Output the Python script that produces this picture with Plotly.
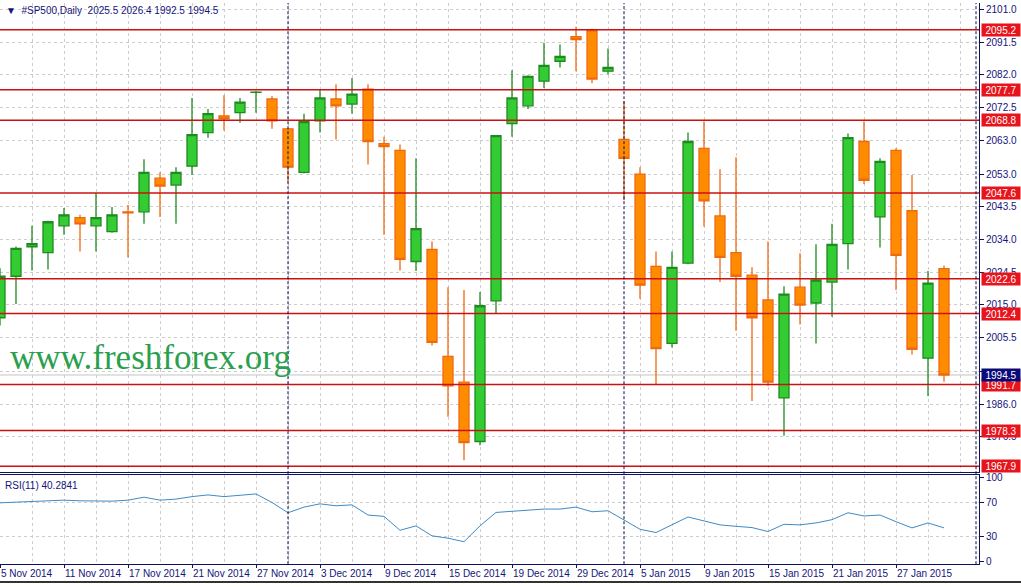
import plotly.graph_objects as go
from datetime import date

# ---------------- data ----------------
dates = [
    "2014-11-05", "2014-11-06", "2014-11-07", "2014-11-10", "2014-11-11", "2014-11-12",
    "2014-11-13", "2014-11-14", "2014-11-17", "2014-11-18", "2014-11-19", "2014-11-20",
    "2014-11-21", "2014-11-24", "2014-11-25", "2014-11-26", "2014-11-27", "2014-11-28",
    "2014-12-01", "2014-12-02", "2014-12-03", "2014-12-04", "2014-12-05", "2014-12-08",
    "2014-12-09", "2014-12-10", "2014-12-11", "2014-12-12", "2014-12-15", "2014-12-16",
    "2014-12-17", "2014-12-18", "2014-12-19", "2014-12-22", "2014-12-23", "2014-12-24",
    "2014-12-29", "2014-12-30", "2014-12-31", "2015-01-02", "2015-01-05", "2015-01-06",
    "2015-01-07", "2015-01-08", "2015-01-09", "2015-01-12", "2015-01-13", "2015-01-14",
    "2015-01-15", "2015-01-16", "2015-01-19", "2015-01-20", "2015-01-21", "2015-01-22",
    "2015-01-23", "2015-01-26", "2015-01-27", "2015-01-28", "2015-01-29", "2015-01-30",
]
opens = [2011.2, 2023.3, 2031.9, 2030.2, 2038.0, 2040.4, 2038.0, 2036.3, 2042.1, 2042.1,
         2051.9, 2049.9, 2055.4, 2065.2, 2070.1, 2071.0, 2076.9, 2075.0, 2066.3, 2053.6,
         2068.6, 2075.0, 2073.5, 2077.9, 2062.0, 2060.0, 2027.6, 2031.1, 1999.9, 1992.4,
         1975.1, 2016.1, 2067.8, 2073.0, 2080.2, 2086.0, 2093.2, 2094.9, 2083.1, 2063.2,
         2053.1, 2026.2, 2003.7, 2027.1, 2060.6, 2040.9, 2030.2, 2023.6, 2016.4, 1987.8,
         2020.1, 2015.5, 2021.6, 2032.8, 2062.6, 2040.6, 2060.0, 2042.4, 1999.4, 2025.5]
highs = [2025.6, 2032.0, 2038.0, 2039.5, 2043.2, 2041.2, 2047.6, 2043.5, 2044.1, 2057.4,
         2053.6, 2055.1, 2075.3, 2072.1, 2076.1, 2075.3, 2077.3, 2075.9, 2066.5, 2070.7,
         2077.9, 2079.3, 2081.1, 2079.3, 2064.0, 2061.7, 2057.7, 2033.4, 2020.1, 2019.3,
         2018.7, 2064.5, 2083.4, 2081.9, 2091.4, 2090.9, 2096.1, 2095.5, 2089.7, 2074.4,
         2055.1, 2030.5, 2030.5, 2065.2, 2068.4, 2054.5, 2058.0, 2025.9, 2033.4, 2020.4,
         2030.0, 2032.6, 2038.6, 2064.9, 2068.4, 2057.7, 2060.6, 2052.8, 2024.8, 2026.4]
lows = [2008.9, 2015.2, 2025.0, 2025.3, 2035.4, 2030.5, 2030.5, 2036.0, 2028.8, 2038.6,
        2040.6, 2038.6, 2052.8, 2063.7, 2065.8, 2068.1, 2071.0, 2066.3, 2050.7, 2053.3,
        2065.2, 2063.2, 2070.7, 2055.9, 2035.4, 2025.0, 2024.8, 2003.1, 1982.3, 1969.6,
        1974.0, 2012.3, 2064.0, 2072.1, 2078.2, 2084.2, 2083.1, 2079.6, 2082.2, 2045.5,
        2016.7, 1991.6, 2002.5, 2026.8, 2037.8, 2021.6, 2007.4, 1986.9, 1991.3, 1976.8,
        2009.2, 2003.7, 2011.5, 2025.3, 2050.2, 2031.7, 2019.3, 2000.5, 1988.4, 1992.5]
closes = [2023.3, 2031.4, 2032.8, 2039.2, 2041.2, 2038.6, 2040.4, 2041.2, 2041.8, 2053.6,
          2049.6, 2053.6, 2064.6, 2070.7, 2069.2, 2074.1, 2077.0, 2068.6, 2055.1, 2068.4,
          2075.3, 2073.0, 2076.4, 2062.6, 2061.1, 2028.2, 2037.2, 2004.0, 1991.3, 1974.8,
          2014.7, 2064.3, 2075.3, 2081.6, 2084.8, 2087.4, 2092.3, 2080.8, 2084.2, 2057.7,
          2020.7, 2002.2, 2025.9, 2062.6, 2045.3, 2028.8, 2023.3, 2011.2, 1992.4, 2018.1,
          2014.9, 2022.2, 2032.6, 2063.7, 2051.3, 2056.8, 2029.4, 2002.0, 2021.3, 1994.5]
rsi = [70.0, 70.8, 72.0, 72.7, 73.2, 72.4, 72.0, 72.0, 73.2, 76.7,
       73.2, 74.4, 77.4, 79.4, 77.4, 79.4, 80.6, 70.4, 58.2, 64.9,
       68.8, 66.5, 67.6, 55.5, 53.9, 37.4, 42.6, 30.8, 28.0, 23.8,
       42.6, 58.6, 60.0, 60.9, 62.6, 62.6, 64.9, 59.4, 60.6, 49.6,
       38.6, 34.7, 43.8, 53.2, 48.5, 43.8, 42.1, 40.6, 35.9, 44.5,
       43.8, 46.1, 50.0, 58.2, 54.4, 55.5, 47.6, 40.2, 46.1, 40.28]
levels = [2095.2, 2077.7, 2068.8, 2047.6, 2022.6, 2012.4, 1991.7, 1978.3, 1967.9]
price_ticks = [2101.0, 2091.5, 2082.0, 2072.5, 2063.0, 2053.0, 2043.5, 2034.0,
               2024.5, 2015.0, 2005.5, 1995.5, 1986.0, 1976.5]
rsi_ticks = [100, 70, 30, 0]
rsi_levels = [70, 30]
bid = 1994.5
symbol = "#SP500,Daily"
rsi_name = "RSI(11)"
rsi_last_text = "40.2841"
watermark = "www.freshforex.org"

# ---------------- derived ----------------
W, H = 1021, 587
bar_px = 16.0
plot_right_px = 979
d = [date.fromisoformat(s) for s in dates]
xs = list(range(len(d)))
label_idx = xs[::4]
label_txt = [f"{d[i].day} {d[i].strftime('%b %Y')}" for i in label_idx]
separators = [i for i in xs[1:] if d[i].month != d[i - 1].month]
separators.append(len(d) + 1)  # next month separator beyond last bar

x_range = [0, plot_right_px / bar_px]
main_top_px, main_bot_px = 0, 474
rsi_top_px, rsi_bot_px = 477, 567
px_per_pt = 3.464
ref_level, ref_px = levels[0], 27
y_range = [ref_level - (main_bot_px - ref_px) / px_per_pt,
           ref_level + (ref_px - main_top_px) / px_per_pt]
rsi_pp = 0.85
rsi_range = [30 - (rsi_bot_px - 539) / rsi_pp, 70 + (505 - rsi_top_px) / rsi_pp]

def py(px):
    return (H - px) / H

NAVY = "#14147a"
AXIS = "#101060"
GRID = "#cdcdcd"
FONT = "Liberation Sans"
xd = plot_right_px / W

# price label hidden behind the bid marker in the original terminal view
price_ticktext = ["" if abs(v - bid) < 1.5 else f"{v:.1f}" for v in price_ticks]

fig = go.Figure()
fig.add_trace(go.Candlestick(
    x=xs, open=opens, high=highs, low=lows, close=closes,
    increasing=dict(line=dict(color="#1f8a1f", width=1.3), fillcolor="#33cc33"),
    decreasing=dict(line=dict(color="#f0690f", width=1.3), fillcolor="#ff8c00"),
    xaxis="x", yaxis="y", showlegend=False, hoverinfo="skip",
))
fig.add_trace(go.Scatter(
    x=xs, y=rsi, mode="lines", line=dict(color="#3f8ac6", width=1),
    xaxis="x2", yaxis="y2", showlegend=False, hoverinfo="skip",
))

shapes = []
for lv in levels:
    shapes.append(dict(type="line", xref="x domain", x0=0, x1=1, yref="y", y0=lv, y1=lv,
                       line=dict(color="#cc1111", width=1.5), layer="above"))
shapes.append(dict(type="line", xref="x domain", x0=0, x1=1, yref="y", y0=bid, y1=bid,
                   line=dict(color="#c4c4c4", width=1), layer="below"))
for s in separators:
    shapes.append(dict(type="line", xref="x", x0=s, x1=s, yref="paper",
                       y0=py(rsi_bot_px), y1=1,
                       line=dict(color="#0a0a50", width=1, dash="3px,2px"), layer="above"))
shapes.append(dict(type="line", xref="paper", x0=0, x1=1, yref="paper",
                   y0=py(585), y1=py(585), line=dict(color="#333333", width=2)))

ann = []
for lv in levels:
    ann.append(dict(xref="paper", x=981 / W, xanchor="left", yref="y", y=lv, yanchor="middle",
                    text=f"{lv:.1f}", showarrow=False, bgcolor="#e8141c",
                    font=dict(family=FONT, size=10, color="white"),
                    width=36, height=10, borderpad=1))
ann.append(dict(xref="paper", x=981 / W, xanchor="left", yref="y", y=bid, yanchor="middle",
                text=f"{bid:.1f}", showarrow=False, bgcolor="#0a0a78",
                font=dict(family=FONT, size=10, color="white"),
                width=36, height=10, borderpad=1))
ann.append(dict(xref="paper", x=4 / W, xanchor="left", yref="paper", y=py(8), yanchor="middle",
                text=f"▼  {symbol}  {opens[-1]:.1f} {highs[-1]:.1f} {lows[-1]:.1f} {closes[-1]:.1f}",
                showarrow=False, font=dict(family=FONT, size=10, color=NAVY)))
ann.append(dict(xref="paper", x=3 / W, xanchor="left", yref="paper", y=py(487), yanchor="middle",
                text=f"{rsi_name} {rsi_last_text}", showarrow=False,
                font=dict(family=FONT, size=10, color=NAVY)))
ann.append(dict(xref="paper", x=8 / W, xanchor="left", yref="paper", y=py(358), yanchor="middle",
                text=watermark, showarrow=False,
                font=dict(family="Liberation Serif", size=35, color="#2aa04e")))

tickfont = dict(family=FONT, size=10, color=NAVY)
fig.update_layout(
    width=W, height=H, margin=dict(l=0, r=0, t=0, b=0),
    paper_bgcolor="white", plot_bgcolor="white",
    boxgap=0.375, boxgroupgap=0,
    showlegend=False,
    xaxis=dict(domain=[0, xd], range=x_range, anchor="y",
               tickmode="array", tickvals=list(range(0, 62, 2)), showticklabels=False, ticks="",
               showgrid=True, gridcolor=GRID, griddash="3px,3px", gridwidth=1,
               zeroline=False, showline=True, linecolor=AXIS, linewidth=1,
               rangeslider=dict(visible=False)),
    yaxis=dict(domain=[py(main_bot_px), py(main_top_px)], range=y_range, anchor="x", side="right",
               tickmode="array", tickvals=price_ticks, ticktext=price_ticktext,
               ticks="outside", ticklen=4, tickcolor=AXIS, tickfont=tickfont,
               showgrid=True, gridcolor=GRID, griddash="3px,3px", gridwidth=1,
               zeroline=False, showline=True, linecolor=AXIS, linewidth=1),
    xaxis2=dict(domain=[0, xd], range=x_range, anchor="y2",
                tickmode="array", tickvals=label_idx, ticktext=label_txt, tickangle=0,
                ticks="outside", ticklen=3, tickcolor=AXIS, tickfont=tickfont,
                ticklabelposition="outside right",
                showgrid=True, gridcolor=GRID, griddash="3px,3px", gridwidth=1,
                minor=dict(tickvals=list(range(2, 62, 4)), showgrid=True, gridcolor=GRID,
                           griddash="3px,3px", gridwidth=1, ticks=""),
                zeroline=False, showline=True, mirror=True, linecolor=AXIS, linewidth=1),
    yaxis2=dict(domain=[py(rsi_bot_px), py(rsi_top_px)], range=rsi_range, anchor="x2", side="right",
                tickmode="array", tickvals=rsi_ticks,
                ticks="outside", ticklen=4, tickcolor=AXIS, tickfont=tickfont,
                showgrid=False,
                minor=dict(tickvals=rsi_levels, showgrid=True, gridcolor=GRID,
                           griddash="3px,3px", gridwidth=1, ticks=""),
                zeroline=False, showline=True, linecolor=AXIS, linewidth=1),
    shapes=shapes, annotations=ann,
)

fig.write_html("out.html", config={"displayModeBar": False},
               post_script="document.body.style.margin='0';document.body.style.padding='0';"
                           "window.dispatchEvent(new Event('resize'));")
